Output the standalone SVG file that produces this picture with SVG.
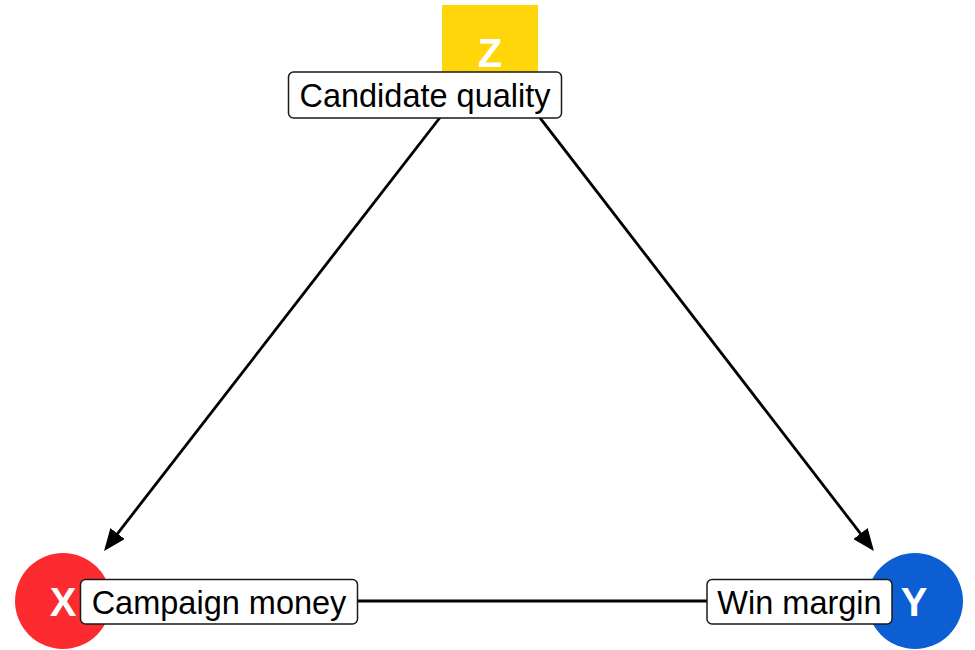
<svg xmlns="http://www.w3.org/2000/svg" width="975" height="650" viewBox="0 0 975 650">
  <defs>
    <marker id="arrow" viewBox="0 0 22 18" refX="18" refY="9" markerWidth="22" markerHeight="18" markerUnits="userSpaceOnUse" orient="auto">
      <path d="M0,0 L22,9 L0,18 z" fill="#000"/>
    </marker>
    <style>
      .edge { stroke: #000; stroke-width: 2.8; fill: none; }
      .lbl rect { fill: #fff; stroke: #1a1a1a; stroke-width: 1.5; }
      .lbl text { font-family: "Liberation Sans", Arial, sans-serif; font-size: 32.5px; fill: #000; text-anchor: middle; }
      .nodetxt { font-family: "Liberation Sans", Arial, sans-serif; font-weight: bold; font-size: 40px; fill: #fff; text-anchor: middle; }
    </style>
  </defs>
  <rect width="975" height="650" fill="#fff"/>
  <g id="connectors">
    <line class="edge" x1="490" y1="53" x2="106.5" y2="547.8" marker-end="url(#arrow)"/>
    <line class="edge" x1="490" y1="53" x2="871.5" y2="547.8" marker-end="url(#arrow)"/>
    <line class="edge" x1="63" y1="601" x2="915" y2="601"/>
  </g>
  <g id="node-z">
    <rect x="442" y="5" width="96" height="96" fill="#FFD60A"/>
    <text class="nodetxt" x="490" y="67">Z</text>
  </g>
  <g id="node-x">
    <circle cx="63" cy="601" r="48" fill="#FC2B2F"/>
    <text class="nodetxt" x="63" y="616">X</text>
  </g>
  <g id="node-y">
    <circle cx="915" cy="601" r="48" fill="#0C5ED2"/>
    <text class="nodetxt" x="914" y="616">Y</text>
  </g>
  <g id="label-z" class="lbl">
    <rect x="288.5" y="72" width="273" height="46" rx="5"/>
    <text x="425" y="106.5">Candidate quality</text>
  </g>
  <g id="label-x" class="lbl">
    <rect x="80.5" y="579.5" width="277" height="44.5" rx="5"/>
    <text x="219" y="613.5">Campaign money</text>
  </g>
  <g id="label-y" class="lbl">
    <rect x="707" y="579.5" width="185" height="44.5" rx="5"/>
    <text x="799.5" y="613.5">Win margin</text>
  </g>
</svg>
